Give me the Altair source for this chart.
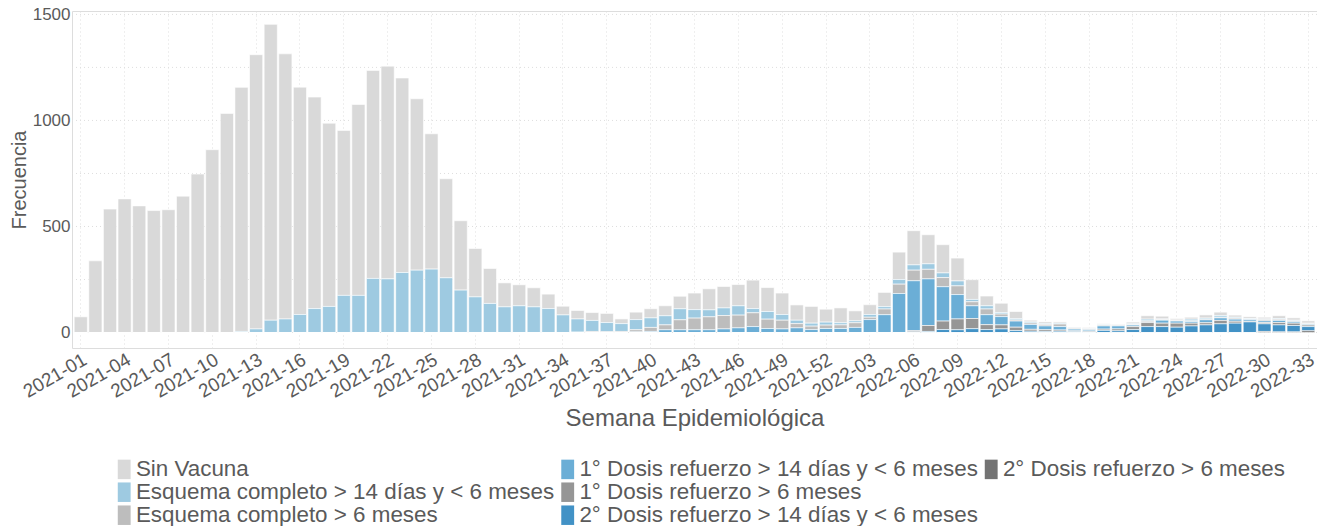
import altair as alt
import pandas as pd

weeks = [f"2021-{w:02d}" for w in range(1, 53)] + [f"2022-{w:02d}" for w in range(1, 34)]
tick_labels = weeks[::3]

categories = [
    "Sin Vacuna",
    "Esquema completo > 14 días y < 6 meses",
    "Esquema completo > 6 meses",
    "1° Dosis refuerzo > 14 días y < 6 meses",
    "1° Dosis refuerzo > 6 meses",
    "2° Dosis refuerzo > 14 días y < 6 meses",
    "2° Dosis refuerzo > 6 meses",
]
colors = ["#D9D9D9", "#9ECAE1", "#BDBDBD", "#6BAED6", "#969696", "#4292C6", "#737373"]

sin_vacuna = ([74, 338, 582, 630, 597, 575, 579, 643, 747, 862, 1033]
              + [1151, 1293, 1395, 1250, 1072, 997, 864, 778, 900, 981, 1003, 917,
                 808, 638, 467, 327, 228, 165, 113, 99, 90, 68, 41]
              + [40, 37, 43, 22, 35, 43, 47, 59, 78, 99, 101, 100, 134, 113, 101, 72, 79, 61]
              + [70, 47, 46, 67, 129, 161, 137, 133, 108, 93, 46, 44, 34, 8, 8, 6, 4, 4]
              + [4, 4, 8, 16, 13, 7, 9, 15, 16, 10, 8, 8, 13, 11, 11])
esq_14 = ([0] * 11
          + [5, 17, 58, 64, 85, 113, 123, 175, 175, 255, 253, 283, 294, 299, 258,
             200, 168, 137, 121, 126, 121, 113, 83]
          + [62, 52, 43, 37, 48, 45, 43, 52, 40, 33, 36, 44, 20, 36, 27, 16, 14, 14]
          + [10, 9, 13, 11, 22, 25, 26, 22, 23, 11, 15, 7, 6, 5, 4, 4, 2, 2]
          + [2, 1, 3, 8, 3, 2, 8, 5, 8, 4, 3, 3, 4, 3, 2])
esq_6 = ([0] * 34
         + [2, 5, 4, 5, 10, 19, 23, 47, 55, 61, 63, 60, 65, 44, 41, 20, 16, 16]
         + [17, 22, 11, 27, 44, 50, 45, 43, 41, 19, 27, 12, 5, 7, 7, 12, 4, 4]
         + [4, 3, 3, 5, 3, 3, 3, 3, 3, 5, 2, 6, 5, 4, 3])
ref1_14 = ([0] * 38
           + [3, 5, 13, 13, 13, 13, 17, 22, 28, 19, 17, 22, 14, 19]
           + [19, 24, 61, 84, 184, 235, 220, 162, 115, 60, 47, 39, 29, 23, 18, 16, 8, 6]
           + [15, 14, 7, 3, 14, 10, 8, 14, 12, 10, 8, 8, 10, 7, 4])
ref1_6 = ([0] * 57
          + [6, 28, 40, 51, 48, 23, 19, 16, 9, 8, 6, 4, 4]
          + [6, 9, 14, 19, 16, 19, 13, 10, 16, 9, 3, 6, 11, 11, 7])
ref2_14 = ([0] * 57
           + [3, 5, 14, 13, 18, 14, 17, 9, 6, 5, 6, 4, 3]
           + [10, 8, 14, 28, 28, 25, 31, 36, 41, 44, 50, 36, 33, 30, 20])
ref2_6 = [0] * 81 + [5, 3, 3, 8]

series = [sin_vacuna, esq_14, esq_6, ref1_14, ref1_6, ref2_14, ref2_6]
grid_values = [0, 250, 500, 750, 1000, 1250, 1500]

rows = []
for k, (cat, vals) in enumerate(zip(categories, series)):
    for w, v in zip(weeks, vals):
        rows.append({"semana": w, "tipo": cat, "n": v, "orden": 6 - k})
df = pd.DataFrame(rows)

# an empty 8th legend slot keeps the 3-row, column-wise legend layout
legend_domain = categories + [" "]
legend_range = colors + ["#ffffff"]

txt = "#5a5a5a"
font = "Liberation Sans"

y_scale = alt.Scale(domain=[-73, 1516], nice=False, zero=False)

grid = alt.Chart(pd.DataFrame({"g": grid_values})).mark_rule(
    color="#dedede", strokeDash=[1, 3], strokeWidth=1
).encode(y=alt.Y("g:Q", scale=y_scale))

bars = alt.Chart(df).mark_bar(stroke="white", strokeWidth=0.6).encode(
    x=alt.X("semana:N", sort=weeks,
            scale=alt.Scale(paddingInner=0.1, paddingOuter=0.15),
            axis=alt.Axis(values=tick_labels, title="Semana Epidemiológica",
                          labelAngle=-30, labelAlign="right", labelBaseline="top",
                          labelFontSize=19, labelColor=txt, labelPadding=2,
                          titleFontSize=24, titleColor=txt, titleFontWeight="normal",
                          titlePadding=5, ticks=False, domain=False,
                          grid=True, gridDash=[1, 3], gridColor="#dedede",
                          bandPosition=0.5, labelFont=font, titleFont=font)),
    y=alt.Y("sum(n):Q", scale=y_scale, stack="zero",
            axis=alt.Axis(values=[0, 500, 1000, 1500], format="d", title="Frecuencia",
                          labelFontSize=17, labelColor=txt, labelPadding=2,
                          titleFontSize=20, titleColor=txt, titleFontWeight="normal",
                          titlePadding=3, ticks=False, domain=False, grid=False,
                          labelFont=font, titleFont=font)),
    color=alt.Color("tipo:N",
                    scale=alt.Scale(domain=legend_domain, range=legend_range),
                    legend=alt.Legend(title=None, orient="none", legendX=41, legendY=447,
                                      columns=3, direction="vertical",
                                      symbolType="M-0.66,-1H0.66V1H-0.66Z",
                                      symbolSize=380, symbolStrokeWidth=0,
                                      labelFontSize=22.4, labelColor=txt, labelFont=font,
                                      labelOffset=0.5, rowPadding=-1.4, columnPadding=1.5,
                                      labelLimit=600, padding=0)),
    order=alt.Order("orden:Q", sort="ascending"),
)

chart = alt.layer(grid, bars).properties(
    width=1245, height=337,
    autosize=alt.AutoSizeParams(type="none"),
    padding={"left": 64, "top": 3, "right": 0, "bottom": 178},
).configure_view(stroke=None).configure(font=font)

chart.save("out.html", embed_options={"renderer": "svg", "actions": False})
